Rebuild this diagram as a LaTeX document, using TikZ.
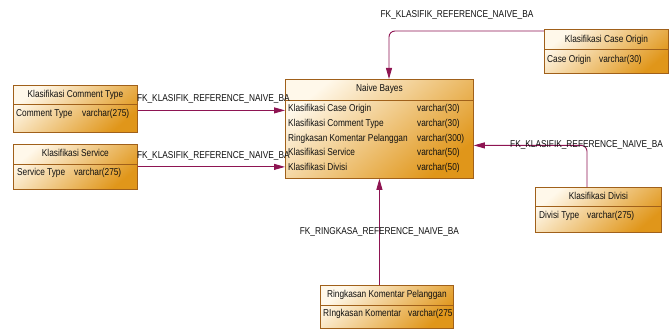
\documentclass[tikz,border=0pt]{standalone}
\usepackage{fontspec}
\newfontfamily\erfont[FakeStretch=0.83]{Liberation Sans}
\usetikzlibrary{calc,positioning,arrows.meta,shapes}
\definecolor{boxtop}{HTML}{FFF8EA}
\definecolor{boxbot}{HTML}{E0961A}
\definecolor{boxline}{HTML}{A0601A}
\definecolor{fkline}{HTML}{8E1452}
\definecolor{teks}{HTML}{101010}
\tikzset{
>={Triangle[length=11pt,width=6pt]},
  tabel/.style={
    rectangle,
    draw=boxline, line width=0.8pt,
    top color=boxtop,
    bottom color=boxbot,
    shading angle=40,
    anchor=north west,
    inner sep=0pt},
  judul/.style={
    font=\erfont\fontsize{10}{12}\selectfont,
    text=teks,
    text height=7pt, text depth=2pt,
    inner sep=0pt},
  kolom/.style={judul, anchor=west},
  pemisah/.style={draw=boxline, line width=0.8pt},
  fk/.style={draw=fkline, line width=0.9pt, ->},
  fklabel/.style={judul},
}

\begin{document}
\begin{tikzpicture}[x=1pt, y=-1pt]
  \useasboundingbox (0,0) rectangle (670,329);
  % the tables
  \node[tabel, minimum width=188pt, minimum height=99pt] (nb) at (285,79) {};
  \node[tabel, minimum width=124pt, minimum height=47pt] (ct) at (13,85) {};
  \node[tabel, minimum width=124pt, minimum height=45pt] (sv) at (13,144) {};
  \node[tabel, minimum width=124pt, minimum height=44pt] (co) at (544,29) {};
  \node[tabel, minimum width=126pt, minimum height=45pt] (dv) at (535,187) {};
  \node[tabel, minimum width=133pt, minimum height=43pt] (rk) at (320,285) {};
  %% header lines
  \draw[pemisah] ($(nb.north west)+(0,21)$) -- ($(nb.north east)+(0,21)$);
  \draw[pemisah] ($(ct.north west)+(0,19)$) -- ($(ct.north east)+(0,19)$);
  \draw[pemisah] ($(sv.north west)+(0,20)$) -- ($(sv.north east)+(0,20)$);
  \draw[pemisah] ($(co.north west)+(0,20)$) -- ($(co.north east)+(0,20)$);
  \draw[pemisah] ($(dv.north west)+(0,19)$) -- ($(dv.north east)+(0,19)$);
  \draw[pemisah] ($(rk.north west)+(0,20)$) -- ($(rk.north east)+(0,20)$);
  %% titles
  \node[judul] (nb-judul) at ($(nb.north)+(0,10)$) {Naive Bayes};
  \node[judul] (ct-judul) at ($(ct.north)+(0,10)$) {Klasifikasi Comment Type};
  \node[judul] (sv-judul) at ($(sv.north)+(0,10)$) {Klasifikasi Service};
  \node[judul] (co-judul) at ($(co.north)+(0,11)$) {Klasifikasi Case Origin};
  \node[judul] (dv-judul) at ($(dv.north)+(0,10)$) {Klasifikasi Divisi};
  \node[judul] (rk-judul) at ($(rk.north)+(0,10)$) {Ringkasan Komentar Pelanggan};
  %% columns
  \foreach \nama/\tipe [count=\i from 0] in {Klasifikasi Case Origin/varchar(30),
      Klasifikasi Comment Type/varchar(30),
      Ringkasan Komentar Pelanggan/varchar(300),
      Klasifikasi Service/varchar(50),
      Klasifikasi Divisi/varchar(50)} {
    \node[kolom] (nb-n\i) at ($(nb.north west)+(3,30+14.75*\i)$) {\nama};
    \node[kolom] (nb-t\i) at ($(nb.north west)+(132,30+14.75*\i)$) {\tipe};
  }
  \node[kolom] (ct-n) at ($(ct.north west)+(3,29)$) {Comment Type};
  \node[kolom] (ct-t) at ($(ct.north west)+(69,29)$) {varchar(275)};
  \node[kolom] (sv-n) at ($(sv.north west)+(4,29)$) {Service Type};
  \node[kolom] (sv-t) at ($(sv.north west)+(61,29)$) {varchar(275)};
  \node[kolom] (co-n) at ($(co.north west)+(3,31)$) {Case Origin};
  \node[kolom] (co-t) at ($(co.north west)+(55,31)$) {varchar(30)};
  \node[kolom] (dv-n) at ($(dv.north west)+(4,29)$) {Divisi Type};
  \node[kolom] (dv-t) at ($(dv.north west)+(52,29)$) {varchar(275)};
  \node[kolom] (rk-n) at ($(rk.north west)+(3,29)$) {RIngkasan Komentar};
  \node[kolom] (rk-t) at ($(rk.north west)+(88,29)$) {varchar(275};
  % the references
  \draw[fk] ($(ct.east)+(0,1.5)$) -- ($(ct.east -| nb.west)+(0,1.5)$);
  \draw[fk] (sv.east) -- (sv.east -| nb.west);
  \draw[fk, rounded corners=6pt] ($(co.north west)+(0,2)$) -| ($(nb.north west)+(104,0)$);
  \draw[fk, rounded corners=6pt] ($(dv.north west)+(52,0)$) |- ($(nb.east)+(0,16.5)$);
  \draw[fk] (rk.north -| nb.south) -- (nb.south);
  %% their names
  \node[fklabel, anchor=west] (lb-ct) at ($(ct.east)+(-1,-9.5)$) {FK\_KLASIFIK\_REFERENCE\_NAIVE\_BA};
  \node[fklabel, anchor=west] (lb-sv) at ($(sv.east)+(-1,-10.5)$) {FK\_KLASIFIK\_REFERENCE\_NAIVE\_BA};
  \node[fklabel] (lb-co) at ($(co.north west)+(-87,-14)$) {FK\_KLASIFIK\_REFERENCE\_NAIVE\_BA};
  \node[fklabel, anchor=west] (lb-dv) at ($(dv.north west)+(-25,-42)$) {FK\_KLASIFIK\_REFERENCE\_NAIVE\_BA};
  \node[fklabel] (lb-rk) at ($(rk.north)+(-7.5,-53)$) {FK\_RINGKASA\_REFERENCE\_NAIVE\_BA};
\end{tikzpicture}
\end{document}
